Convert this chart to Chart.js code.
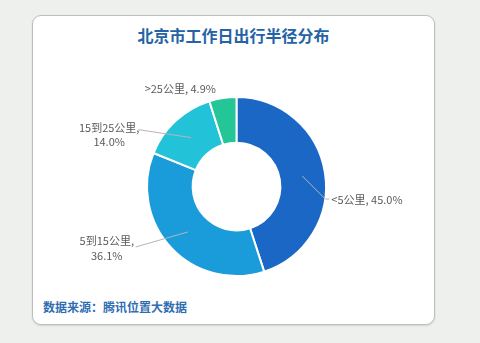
<!DOCTYPE html>
<html>
<head>
<meta charset="utf-8">
<script src="https://cdn.jsdelivr.net/npm/chart.js@4/dist/chart.umd.min.js"></script>
<style>
  html, body { margin:0; padding:0; width:480px; height:343px; background:#eef0ee; overflow:hidden; }
  #card { position:absolute; left:32px; top:15px; width:401px; height:308px; background:#fff;
          border:1px solid #bdbdbd; border-radius:9px; box-shadow:0 1px 2px rgba(0,0,0,0.12); }
  #title { position:absolute; left:32px; width:403px; top:23px; text-align:center;
           font:bold 16px "Noto Sans CJK SC", sans-serif; color:#2363a6; letter-spacing:0px; }
  #source { position:absolute; left:43px; top:298px; font:bold 12px "Noto Sans CJK SC", sans-serif; color:#2f6db2; }
  #wrap { position:absolute; left:0; top:0; width:480px; height:343px; }
</style>
</head>
<body>
<div id="card"></div>
<div id="title">北京市工作日出行半径分布</div>
<div id="source">数据来源：腾讯位置大数据</div>
<div id="wrap"><canvas id="c" width="480" height="343"></canvas></div>
<script>
const categories = ["<5公里", "5到15公里", "15到25公里", ">25公里"];
const shares = [45.0, 36.1, 14.0, 4.9];
const colors = ["#1a67c5", "#1b9cda", "#22c2d8", "#24c596"];
const wrapAfterComma = [false, true, true, false];

// leader-line/label offsets relative to each slice's mid-ring anchor
const labelLayout = [
  { line: [23, 23], tail: 4, align: "left", text: [6, 1], lineGap: 0 },
  { line: [-52, 15], tail: 0, align: "center", text: [-29, -6], lineGap: 15 },
  { line: [-53, -8], tail: 0, align: "center", text: [-29, -2], lineGap: 14 },
  { line: null, tail: 0, align: "center", text: [-46, -32], lineGap: 0 }
];

const labelPlugin = {
  id: "sliceLabels",
  afterDatasetsDraw(chart) {
    const ctx = chart.ctx;
    const meta = chart.getDatasetMeta(0);
    ctx.save();
    ctx.font = '11px "Noto Sans CJK SC", sans-serif';
    ctx.fillStyle = "#5a5a5a";
    ctx.textBaseline = "middle";
    meta.data.forEach((arc, i) => {
      const p = arc.getProps(["x", "y", "startAngle", "endAngle", "innerRadius", "outerRadius"], true);
      const mid = (p.startAngle + p.endAngle) / 2;
      const r = (p.innerRadius + p.outerRadius) / 2;
      const ax = p.x + Math.cos(mid) * r;
      const ay = p.y + Math.sin(mid) * r;
      const L = labelLayout[i];
      let ex = ax, ey = ay;
      if (L.line) {
        ex = ax + L.line[0]; ey = ay + L.line[1];
        ctx.strokeStyle = "#b5b5b5";
        ctx.lineWidth = 1;
        ctx.beginPath();
        ctx.moveTo(ax, ay);
        ctx.lineTo(ex, ey);
        if (L.tail) ctx.lineTo(ex + L.tail, ey);
        ctx.stroke();
      }
      const tx = ex + L.text[0], ty = ey + L.text[1];
      ctx.textAlign = L.align;
      const pct = shares[i].toFixed(1) + "%";
      if (wrapAfterComma[i]) {
        ctx.fillText(categories[i] + ",", tx, ty);
        ctx.fillText(pct, tx, ty + L.lineGap);
      } else {
        ctx.fillText(categories[i] + ", " + pct, tx, ty);
      }
    });
    ctx.restore();
  }
};

new Chart(document.getElementById("c"), {
  type: "doughnut",
  data: {
    labels: categories,
    datasets: [{
      data: shares,
      backgroundColor: colors,
      borderColor: "#ffffff",
      borderWidth: 2,
      hoverOffset: 0
    }]
  },
  options: {
    responsive: false,
    animation: false,
    cutout: "49%",
    rotation: 0,
    layout: { padding: { left: 146, right: 153, top: 96, bottom: 66 } },
    plugins: {
      legend: { display: false },
      tooltip: { enabled: false },
      title: { display: false }
    }
  },
  plugins: [labelPlugin]
});
</script>
</body>
</html>
